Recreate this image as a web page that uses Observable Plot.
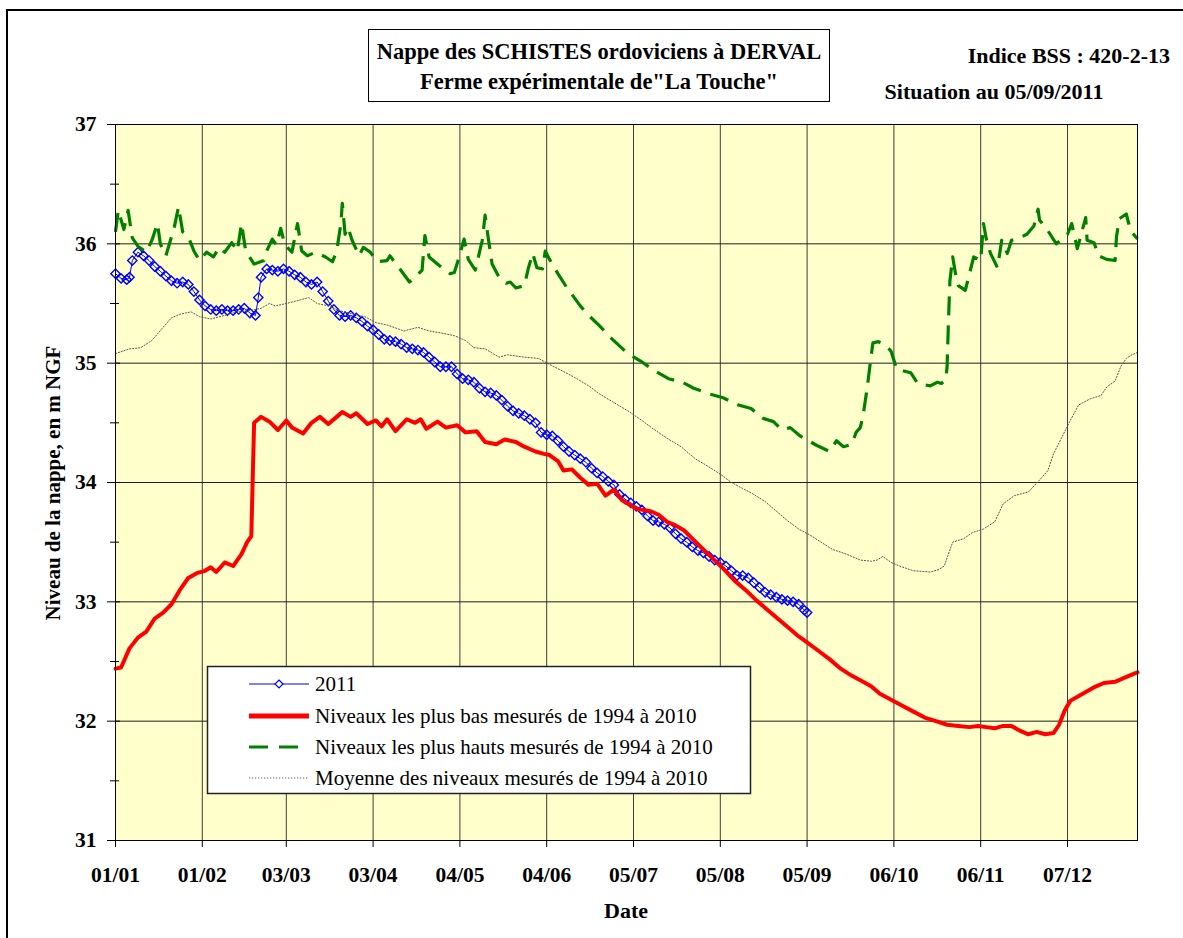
<!DOCTYPE html>
<html><head><meta charset="utf-8">
<script src="https://cdn.jsdelivr.net/npm/d3@7"></script>
<script src="https://cdn.jsdelivr.net/npm/@observablehq/plot@0.6"></script>
<style>body{margin:0;background:#fff} svg{display:block}</style>
</head><body><div id="chart"></div>
<script>
// ---- data (day offsets from 01/01/2011, levels in m NGF) ----
const jours2011 = [0,2,4,5,6,8,10,12,14,16,18,20,22,24,26,28,30,32,34,36,38,40,42,44,46,48,50,51,52,54,56,58,60,62,64,66,68,70,72,74,76,78,80,82,84,86,88,90,92,94,96,98,100,102,104,106,108,110,112,114,116,118,120,122,124,126,128,130,132,134,136,138,140,142,144,146,148,150,152,154,156,158,160,162,164,166,168,170,172,174,176,178,180,182,184,186,188,190,192,194,196,198,200,202,204,206,208,210,212,214,216,218,220,222,224,226,228,230,232,234,236,238,240,242,244,246,247];
const niveaux2011 = [35.75,35.71,35.70,35.72,35.86,35.93,35.90,35.86,35.81,35.77,35.73,35.69,35.67,35.68,35.66,35.60,35.53,35.48,35.45,35.44,35.45,35.44,35.44,35.45,35.46,35.42,35.40,35.55,35.72,35.79,35.78,35.77,35.79,35.77,35.74,35.72,35.68,35.66,35.68,35.60,35.52,35.45,35.40,35.39,35.40,35.38,35.35,35.31,35.28,35.24,35.20,35.19,35.18,35.16,35.13,35.12,35.11,35.09,35.05,35.01,34.97,34.97,34.97,34.91,34.87,34.86,34.84,34.79,34.76,34.75,34.73,34.69,34.64,34.60,34.58,34.56,34.53,34.50,34.42,34.40,34.39,34.35,34.30,34.26,34.23,34.20,34.17,34.12,34.08,34.05,34.01,33.98,33.90,33.86,33.83,33.80,33.77,33.72,33.68,33.67,33.65,33.62,33.57,33.53,33.50,33.46,33.43,33.41,33.38,33.35,33.33,33.30,33.26,33.22,33.22,33.20,33.16,33.12,33.08,33.06,33.04,33.02,33.01,33.00,32.98,32.93,32.91];

const joursBas = [0,2,5,8,11,14,17,20,23,26,29,32,34,36,39,42,45,47,48.5,49.5,52,55,58,61,63,67,70,73,76,79,81,84,86,90,93,95,97,100,104,107,109,111,115,118,122,125,129,132,136,139,143,146,150,153,155,158,160,163,166,169,172,175,178,181,186,191,194,197,200,203,206,209,213,217,221,225,229,233,237,241,244,247,251,255,259,263,267,270,273,277,281,285,289,293,297,301,305,308,311,314,317,320,323,326,329,332,335,337,339,341,344,347,350,353,357,360,363,365];
const niveauxBas = [32.44,32.45,32.61,32.70,32.75,32.86,32.91,32.98,33.10,33.20,33.24,33.26,33.29,33.25,33.33,33.30,33.40,33.50,33.55,34.50,34.55,34.51,34.44,34.52,34.46,34.41,34.50,34.55,34.49,34.55,34.59,34.55,34.58,34.49,34.52,34.47,34.53,34.43,34.53,34.50,34.53,34.45,34.51,34.46,34.48,34.42,34.43,34.34,34.32,34.36,34.34,34.30,34.26,34.24,34.23,34.18,34.10,34.11,34.04,33.98,33.99,33.89,33.94,33.85,33.78,33.76,33.73,33.67,33.64,33.60,33.53,33.46,33.37,33.28,33.18,33.10,33.01,32.93,32.85,32.77,32.71,32.66,32.59,32.52,32.44,32.38,32.33,32.29,32.23,32.18,32.13,32.08,32.03,32.00,31.97,31.96,31.95,31.96,31.95,31.94,31.96,31.96,31.92,31.89,31.91,31.89,31.90,31.97,32.09,32.17,32.21,32.25,32.29,32.32,32.33,32.36,32.39,32.41];

const joursHauts = [0,1,3,4.5,6,8,11,13,15,16,18,21,22.5,24,26,28,30,32.5,35,37,39,41.5,43.5,45,46.5,49.5,53,54,56,57.5,59,60.5,63,65,66.5,68.5,71.5,75,77.5,79,80.5,81,82,83,84.5,87,88.5,91,93.5,97,98,102.5,105,107,109.5,110.5,112,115.5,119.5,121,122.5,124.5,126,128.5,130,131,132,133,134.5,137,139.5,141,143,146,147.5,149,150.5,152.5,153.5,155,158,161,166,169,173,177,183,188,193,197.5,202.5,206.5,212.5,217,222.5,227,231,235,238,241,244.5,250.5,255,257.5,260,263,264.5,266,267,268.5,269.5,270.5,272.5,275,277,279,284,286.5,291,293.5,295,296.5,297,297.5,298,299,300,301,303.5,305,306.5,309,310,311,312.5,315,316.5,318.5,320,322,325.5,328,329.5,330,333,336,340,341.5,343.5,346.5,347,349.5,351,354,357,357.5,358.5,361,362.5,365];
const niveauxHauts = [36.10,36.28,36.12,36.28,36.05,35.98,35.93,36.03,36.17,36.00,35.90,36.14,36.31,36.10,36.06,35.94,35.86,35.93,35.89,35.97,35.93,36.01,35.94,36.17,35.94,35.83,35.86,35.94,36.04,35.99,36.13,35.99,35.93,36.17,35.94,35.90,35.93,35.89,35.85,35.94,36.17,36.34,36.08,36.14,36.03,35.90,35.97,35.93,35.85,35.86,35.90,35.76,35.68,35.72,35.78,36.07,35.89,35.82,35.75,35.76,35.87,36.04,35.87,35.78,35.93,36.03,36.24,36.07,35.83,35.72,35.67,35.68,35.63,35.65,35.80,35.92,35.80,35.79,35.94,35.87,35.75,35.64,35.48,35.40,35.31,35.21,35.08,35.01,34.93,34.87,34.84,34.79,34.74,34.71,34.65,34.62,34.54,34.51,34.44,34.46,34.39,34.31,34.26,34.35,34.30,34.32,34.42,34.46,34.56,34.80,34.99,35.17,35.18,35.15,35.10,34.95,34.92,34.83,34.81,34.84,34.83,34.86,34.97,35.36,35.69,35.89,35.75,35.65,35.61,35.75,35.89,35.86,36.17,36.04,35.92,35.80,36.03,35.92,36.03,36.04,36.08,36.15,36.29,36.20,36.11,36.00,36.08,36.17,35.96,36.22,36.03,36.01,35.90,35.87,35.86,36.06,36.21,36.25,36.11,36.04];

const joursMoy = [0,5,9,13,17,20,23,27,30,34,39,43,48,52,55,57,61,66,69,72,76,80,85,89,93,97,103,108,112,117,121,125,128,132,137,140,146,151,155,160,164,169,173,178,183,188,192,197,202,207,212,216,220,224,228,232,236,240,244,248,252,256,261,266,270,272,274,277,280,285,291,294,296,297,299,303,306,310,314,317,321,326,330,333,335,338,341,344,348,352,354,357,359,361,363,365];
const niveauxMoy = [35.08,35.12,35.13,35.19,35.30,35.38,35.41,35.43,35.39,35.37,35.40,35.43,35.44,35.46,35.50,35.48,35.50,35.53,35.55,35.50,35.48,35.44,35.41,35.39,35.34,35.32,35.27,35.30,35.27,35.25,35.23,35.19,35.13,35.12,35.05,35.07,35.05,35.04,34.99,34.93,34.88,34.81,34.74,34.67,34.60,34.52,34.45,34.37,34.30,34.20,34.13,34.07,34.00,33.95,33.90,33.84,33.76,33.68,33.61,33.56,33.50,33.44,33.40,33.35,33.34,33.35,33.38,33.33,33.30,33.26,33.25,33.27,33.30,33.37,33.50,33.53,33.58,33.61,33.67,33.82,33.89,33.92,34.02,34.10,34.24,34.38,34.52,34.65,34.70,34.73,34.80,34.85,34.97,35.04,35.07,35.09];

const xTickDates = ["2011-01-01","2011-02-01","2011-03-03","2011-04-03","2011-05-04","2011-06-04","2011-07-05","2011-08-05","2011-09-05","2011-10-06","2011-11-06","2011-12-07"];
const yTicks = [31,32,33,34,35,36,37];
const yMinorTicks = [31.5,32.5,33.5,34.5,35.5,36.5];
const legendLabels = ["2011","Niveaux les plus bas mesurés de 1994 à 2010","Niveaux les plus hauts mesurés de 1994 à 2010","Moyenne des niveaux mesurés de 1994 à 2010"];
const titleLines = ["Nappe des SCHISTES ordoviciens à DERVAL","Ferme expérimentale de\"La Touche\""];
const indiceText = "Indice BSS : 420-2-13";
const situationText = "Situation au 05/09/2011";
const xTitle = "Date";
const yTitle = "Niveau de la nappe, en m NGF";

// ---- build ----
const t0 = Date.UTC(2011,0,1);
const toDate = d => new Date(t0 + d*864e5);
const rows = (j, v) => j.map((d,i) => ({date: toDate(d), v: v[i]}));
const d2011 = rows(jours2011, niveaux2011);
const dBas = rows(joursBas, niveauxBas);
const dHauts = rows(joursHauts, niveauxHauts);
const dMoy = rows(joursMoy, niveauxMoy);
const xTicks = xTickDates.map(s => new Date(s + "T00:00:00Z"));

const FONT = "'Liberation Serif','Times New Roman',serif";
const BLUE="#0000ff", RED="#ff0000", GREEN="#008000", GREY="#555555";
const W=1183, H=938;

const chart = Plot.plot({
  width: W, height: H,
  marginLeft: 115, marginRight: 46, marginTop: 124, marginBottom: 98,
  style: {fontFamily: FONT, background: "#fff", overflow: "visible", fontWeight: "bold"},
  x: {type: "utc", domain: [toDate(0), toDate(365)]},
  y: {domain: [31, 37]},
  marks: [
    Plot.frame({fill: "#ffffcc", stroke: null}),
    Plot.gridX({ticks: xTicks, stroke: "#3c3c3c", strokeOpacity: 1, strokeWidth: 1}),
    Plot.gridY({ticks: yTicks, stroke: "#1e1e1e", strokeOpacity: 1, strokeWidth: 1}),
    Plot.line(d2011, {x: "date", y: "v", stroke: BLUE, strokeWidth: 1}),
    Plot.dot(d2011, {x: "date", y: "v", symbol: "diamond2", r: 4.2, stroke: BLUE, fill: "none", strokeWidth: 1.4}),
    Plot.line(dBas, {x: "date", y: "v", stroke: RED, strokeWidth: 4}),
    Plot.line(dHauts, {x: "date", y: "v", stroke: GREEN, strokeWidth: 3.2, strokeDasharray: "19,10", strokeLinecap: "butt"}),
    Plot.line(dMoy, {x: "date", y: "v", stroke: GREY, strokeWidth: 1, strokeDasharray: "1.2,1.8"}),
    Plot.frame({stroke: "#000", strokeWidth: 1}),
    Plot.axisX({ticks: xTicks, tickSize: 7, tickPadding: 19, tickFormat: d3.utcFormat("%d/%m"), fontSize: 21.5, fontWeight: "bold", label: null}),
    Plot.axisY({ticks: yTicks, tickSize: 8, tickPadding: 11, tickFormat: "d", fontSize: 21.5, fontWeight: "bold", label: null}),
    Plot.axisY({ticks: yTicks, tickSize: 5, dx: 5, tickFormat: () => "", label: null}),
    Plot.axisY({ticks: yMinorTicks, tickSize: 5, tickFormat: () => "", label: null}),
    Plot.axisY({ticks: yMinorTicks, tickSize: 4, dx: 4, tickFormat: () => "", label: null})
  ]
});
document.getElementById("chart").appendChild(chart);

// ---- decorations ----
const svg = d3.select(chart);
const deco = svg.append("g").attr("font-family", FONT).attr("text-anchor", "start");
deco.append("rect").attr("x", 7).attr("y", 10).attr("width", 1300).attr("height", 1000)
  .attr("fill", "none").attr("stroke", "#000").attr("stroke-width", 2);
// title box
deco.append("rect").attr("x", 368.5).attr("y", 29.5).attr("width", 461).attr("height", 72)
  .attr("fill", "#fff").attr("stroke", "#000").attr("stroke-width", 1);
titleLines.forEach((t, i) => deco.append("text").text(t)
  .attr("x", 599).attr("y", 59 + i*30).attr("text-anchor", "middle")
  .attr("font-size", 22.5).attr("font-weight", "bold"));
deco.append("text").text(indiceText).attr("x", 1170).attr("y", 63).attr("text-anchor", "end")
  .attr("font-size", 22).attr("font-weight", "bold");
deco.append("text").text(situationText).attr("x", 994).attr("y", 99).attr("text-anchor", "middle")
  .attr("font-size", 22).attr("font-weight", "bold");
deco.append("text").text(xTitle).attr("x", 626).attr("y", 918).attr("text-anchor", "middle")
  .attr("font-size", 22).attr("font-weight", "bold");
deco.append("text").text(yTitle).attr("transform", "translate(60,483) rotate(-90)")
  .attr("text-anchor", "middle").attr("font-size", 21).attr("font-weight", "bold");

// legend
const lg = deco.append("g");
lg.append("rect").attr("x", 207.5).attr("y", 666.5).attr("width", 543).attr("height", 127)
  .attr("fill", "#fff").attr("stroke", "#222").attr("stroke-width", 1.5);
const ly = [684, 716, 747, 778];
const styles = [
  {stroke: BLUE, w: 1, dash: null},
  {stroke: RED, w: 5, dash: null},
  {stroke: GREEN, w: 3, dash: "19,11"},
  {stroke: GREY, w: 1, dash: "1.2,1.8"}
];
legendLabels.forEach((t, i) => {
  lg.append("line").attr("x1", 249).attr("x2", 309).attr("y1", ly[i]).attr("y2", ly[i])
    .attr("stroke", styles[i].stroke).attr("stroke-width", styles[i].w)
    .attr("stroke-dasharray", styles[i].dash);
  if (i === 0) lg.append("path").attr("d", d3.symbol(d3.symbolDiamond2, Math.PI*3.6*3.6)())
    .attr("transform", `translate(279,${ly[i]})`).attr("fill", "#fff").attr("stroke", BLUE).attr("stroke-width", 1.2);
  lg.append("text").text(t).attr("x", 315).attr("y", ly[i]).attr("dy", "0.35em")
    .attr("text-anchor", "start").attr("font-size", 21).attr("font-weight", "normal");
});
</script>
</body></html>
